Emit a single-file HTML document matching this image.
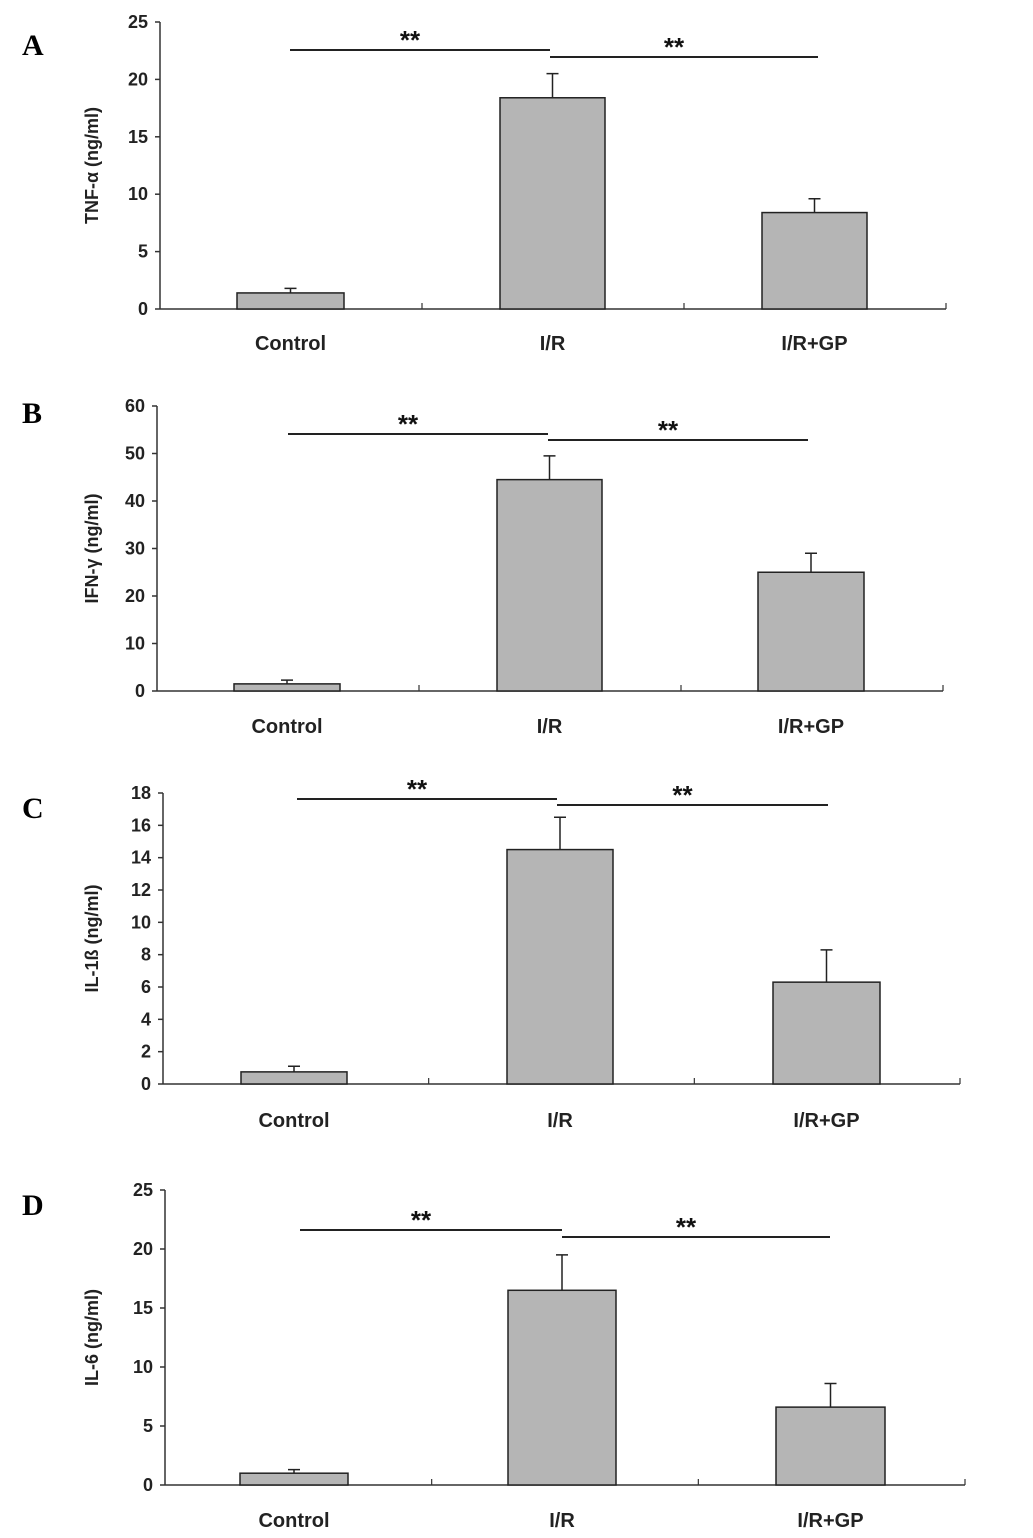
<!DOCTYPE html>
<html><head><meta charset="utf-8"><style>
body{margin:0;background:#fff;}
svg{display:block;font-family:"Liberation Sans",Arial,sans-serif;}
</style></head><body>
<svg id="fig" width="1033" height="1538" viewBox="0 0 1033 1538"></svg>
<script>
const categories = ["Control","I/R","I/R+GP"];
const tnfValues = [1.4, 18.4, 8.4];
const tnfErrors = [0.4, 2.1, 1.2];
const ifnValues = [1.5, 44.5, 25.0];
const ifnErrors = [0.8, 5.0, 4.0];
const il1Values = [0.75, 14.5, 6.3];
const il1Errors = [0.35, 2.0, 2.0];
const il6Values = [1.0, 16.5, 6.6];
const il6Errors = [0.3, 3.0, 2.0];
const tnfTicks = [0,5,10,15,20,25];
const ifnTicks = [0,10,20,30,40,50,60];
const il1Ticks = [0,2,4,6,8,10,12,14,16,18];
const il6Ticks = [0,5,10,15,20,25];

const NS="http://www.w3.org/2000/svg";
const svg=document.getElementById('fig');
function mk(tag,attrs,parent){const e=document.createElementNS(NS,tag);for(const k in attrs)e.setAttribute(k,attrs[k]);(parent||svg).appendChild(e);return e;}

const panels=[
 {letter:"A",ly:55,label:"TNF-α (ng/ml)",vals:tnfValues,errs:tnfErrors,ticks:tnfTicks,x0:160,x1:946,y0:309,yTop:22,catY:350,bars:[[237,344],[500,605],[762,867]],sig1:[290,550,50],sig2:[550,818,57],name:"tnf"},
 {letter:"B",ly:423,label:"IFN-γ (ng/ml)",vals:ifnValues,errs:ifnErrors,ticks:ifnTicks,x0:157,x1:943,y0:691,yTop:406,catY:733,bars:[[234,340],[497,602],[758,864]],sig1:[288,548,434],sig2:[548,808,440],name:"ifn"},
 {letter:"C",ly:818,label:"IL-1ß (ng/ml)",vals:il1Values,errs:il1Errors,ticks:il1Ticks,x0:163,x1:960,y0:1084,yTop:793,catY:1127,bars:[[241,347],[507,613],[773,880]],sig1:[297,557,799],sig2:[557,828,805],name:"il1b"},
 {letter:"D",ly:1215,label:"IL-6 (ng/ml)",vals:il6Values,errs:il6Errors,ticks:il6Ticks,x0:165,x1:965,y0:1485,yTop:1190,catY:1527,bars:[[240,348],[508,616],[776,885]],sig1:[300,562,1230],sig2:[562,830,1237],name:"il6"}
];

panels.forEach(p=>{
  const g=mk('g',{});
  
  
  const max=p.ticks[p.ticks.length-1];
  const y=v=>p.y0-(v/max)*(p.y0-p.yTop);
  const t=mk('text',{x:22,y:p.ly,'font-family':'"Liberation Serif",serif','font-weight':'bold','font-size':30},g);
  t.textContent=p.letter;
  
  
  const ya=mk('line',{x1:p.x0,y1:p.yTop,x2:p.x0,y2:p.y0,stroke:'#333','stroke-width':1.5},g);
  
  
  const xa=mk('line',{x1:p.x0,y1:p.y0,x2:p.x1,y2:p.y0,stroke:'#333','stroke-width':1.5},g);
  
  
  p.ticks.forEach(v=>{
    mk('line',{x1:p.x0-5,y1:y(v),x2:p.x0,y2:y(v),stroke:'#333','stroke-width':1.5},g);
    const tl=mk('text',{x:p.x0-12,y:y(v)+6,'text-anchor':'end','font-weight':'bold','font-size':18,fill:'#222'},g);
    tl.textContent=v;
    
    
  });
  const step=(p.x1-p.x0)/3;
  for(let i=1;i<=3;i++){mk('line',{x1:p.x0+step*i,y1:p.y0-6,x2:p.x0+step*i,y2:p.y0,stroke:'#333','stroke-width':1.2},g);}
  const yl=mk('text',{x:0,y:0,transform:`translate(98,${(p.y0+p.yTop)/2}) rotate(-90)`,'text-anchor':'middle','font-weight':'bold','font-size':18,fill:'#222'},g);
  yl.textContent=p.label;
  
  
  categories.forEach((c,i)=>{
    const [bx0,bx1]=p.bars[i];
    const top=y(p.vals[i]);
    const b=mk('rect',{x:bx0,y:top,width:bx1-bx0,height:p.y0-top,fill:'#b5b5b5',stroke:'#222','stroke-width':1.5},g);
    
    
    const cx=(bx0+bx1)/2, et=y(p.vals[i]+p.errs[i]);
    const e=mk('path',{d:`M${cx},${top}V${et}M${cx-6},${et}H${cx+6}`,stroke:'#222','stroke-width':1.5,fill:'none'},g);
    
    
    const cl=mk('text',{x:cx,y:p.catY,'text-anchor':'middle','font-weight':'bold','font-size':20,fill:'#222'},g);
    cl.textContent=c;
    
    
  });
  [p.sig1,p.sig2].forEach(s=>{
    const l=mk('line',{x1:s[0],y1:s[2],x2:s[1],y2:s[2],stroke:'#222','stroke-width':2},g);
    
    
    const st=mk('text',{x:(s[0]+s[1])/2-10,y:s[2]-1,'text-anchor':'middle','font-weight':'bold','font-size':26,fill:'#111'},g);
    st.textContent='**';
    
    
  });
});
</script>
</body></html>
